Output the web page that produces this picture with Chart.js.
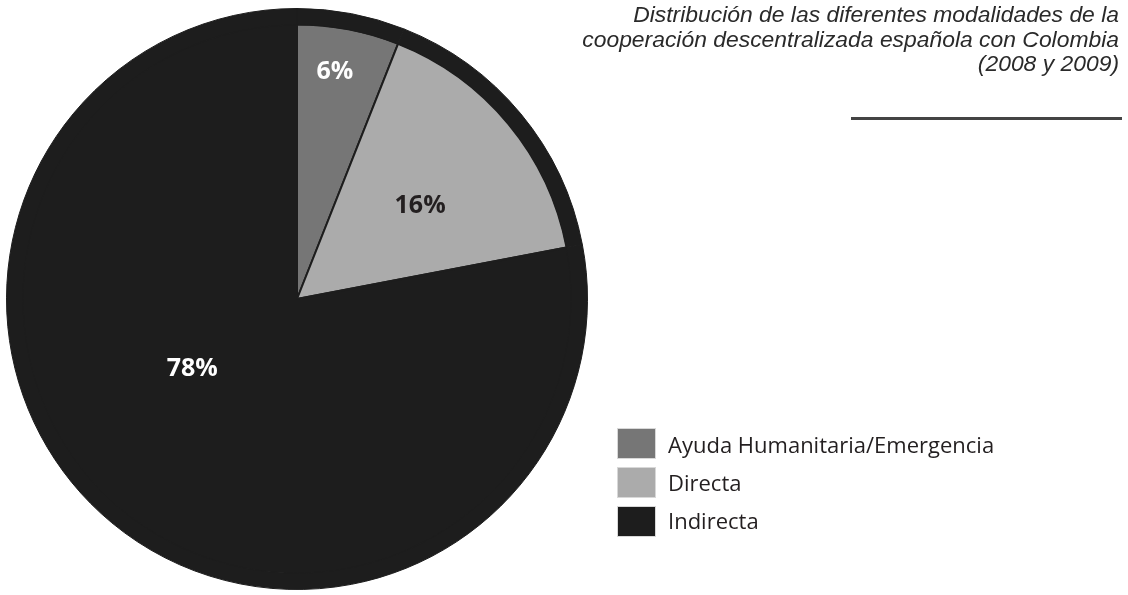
<!DOCTYPE html>
<html>
<head>
<meta charset="utf-8">
<script src="https://cdn.jsdelivr.net/npm/chart.js@4.4.1/dist/chart.umd.min.js"></script>
<style>
  html, body { margin: 0; padding: 0; background: #fff; }
</style>
</head>
<body>
<canvas id="pieChart" width="1128" height="595"></canvas>
<script>
// data
const categories = ['Ayuda Humanitaria/Emergencia', 'Directa', 'Indirecta'];
const shares = [6, 16, 78];
const titleLines = [
    'Distribución de las diferentes modalidades de la',
    'cooperación descentralizada española con Colombia',
    '(2008 y 2009)'
];

// styles
const DARK = '#1d1d1d';
const sliceColors = ['#767676', '#ababab', DARK];
const labelColors = ['#ffffff', '#231f20', '#ffffff'];
// where the % label sits inside each slice (fraction of radius, turn in degrees)
const labelDepth = [0.847, 0.567, 0.455];
const labelTurn = [-1.4, 1.9, 17.4];

const sliceLabels = {
    id: 'sliceLabels',
    afterDatasetsDraw(chart) {
        const ctx = chart.ctx;
        const meta = chart.getDatasetMeta(1);
        ctx.save();
        ctx.font = 'bold 25px "Open Sans"';
        ctx.textAlign = 'center';
        ctx.textBaseline = 'alphabetic';
        meta.data.forEach(function (arc, i) {
            const p = arc.getProps(['x', 'y', 'startAngle', 'endAngle', 'outerRadius'], true);
            const a = (p.startAngle + p.endAngle) / 2 + labelTurn[i] * Math.PI / 180;
            const r = p.outerRadius * labelDepth[i];
            ctx.fillStyle = labelColors[i];
            ctx.fillText(shares[i] + '%', p.x + Math.cos(a) * r, p.y + Math.sin(a) * r + 9);
        });
        ctx.restore();
    }
};

// title block and legend on the right side
const sideBlock = {
    id: 'sideBlock',
    afterDraw(chart) {
        const ctx = chart.ctx;
        ctx.save();
        ctx.fillStyle = '#2a2a2a';
        ctx.font = 'italic 22px "Liberation Sans", Arial, sans-serif';
        ctx.textAlign = 'right';
        ctx.textBaseline = 'alphabetic';
        titleLines.forEach(function (line, i) {
            ctx.save();
            ctx.translate(1119, 22 + i * 24.5);
            ctx.scale(1.04, 1);
            ctx.fillText(line, 0, 0);
            ctx.restore();
        });
        ctx.strokeStyle = '#444444';
        ctx.lineWidth = 3;
        ctx.beginPath();
        ctx.moveTo(851, 118.5);
        ctx.lineTo(1122, 118.5);
        ctx.stroke();

        ctx.textAlign = 'left';
        ctx.font = '22px "Open Sans"';
        categories.forEach(function (name, i) {
            const y = 428 + i * 39;
            ctx.fillStyle = sliceColors[i];
            ctx.fillRect(617, y, 39, 31);
            ctx.strokeStyle = '#d8d8d8';
            ctx.lineWidth = 1;
            ctx.strokeRect(617.5, y + 0.5, 38, 30);
            ctx.fillStyle = '#231f20';
            ctx.fillText(name, 668, 453 + i * 38);
        });
        ctx.restore();
    }
};

new Chart(document.getElementById('pieChart').getContext('2d'), {
    type: 'pie',
    data: {
        labels: categories,
        datasets: [{
            // thin dark rim around the whole pie
            data: shares,
            backgroundColor: shares.map(() => DARK),
            borderColor: DARK,
            borderWidth: 1,
            weight: 16
        }, {
            data: shares,
            backgroundColor: sliceColors,
            borderColor: DARK,
            borderWidth: 2,
            weight: 274
        }]
    },
    options: {
        responsive: false,
        animation: false,
        layout: {
            padding: { left: 6, top: 8, right: 540, bottom: 5 }
        },
        plugins: {
            legend: { display: false },
            tooltip: { enabled: false }
        }
    },
    plugins: [sliceLabels, sideBlock]
});
</script>
</body>
</html>
